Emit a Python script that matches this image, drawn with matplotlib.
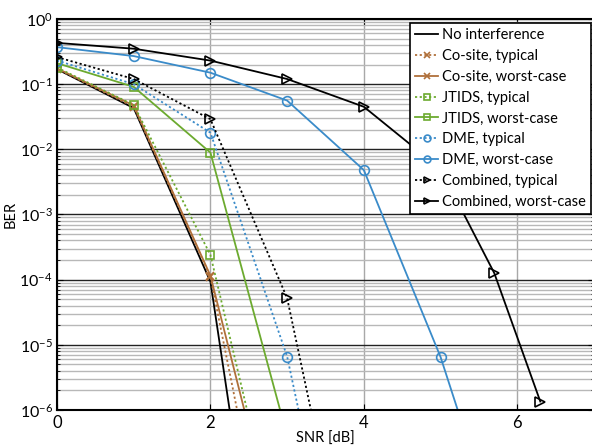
import matplotlib
matplotlib.use("Agg")
import matplotlib.pyplot as plt
from matplotlib.ticker import FixedLocator, NullFormatter

plt.rcParams['font.family'] = ['Lato', 'DejaVu Sans']
plt.rcParams['mathtext.fontset'] = 'custom'
plt.rcParams['mathtext.rm'] = 'Lato'
plt.rcParams['mathtext.it'] = 'Lato:italic'

# ---- data ----
snr = [0, 1, 2, 3]
no_interference = [0.17, 0.043, 9.3e-5, 1.3e-12]
cosite_typical = [0.172, 0.045, 1.1e-4, 1.5e-10]
cosite_worst = [0.175, 0.047, 1.15e-4, 2.5e-9]
jtids_typical = [0.18, 0.048, 2.4e-4, 2.5e-9]
jtids_worst = [0.21, 0.091, 8.9e-3, 4.0e-7]
snr_dme_typ = [0, 1, 2, 3, 4]
dme_typical = [0.23, 0.10, 0.018, 6.6e-6, 2e-11]
snr_dme_wc = [0, 1, 2, 3, 4, 5, 6]
dme_worst = [0.37, 0.27, 0.15, 0.056, 0.0048, 6.5e-6, 1.5e-9]
snr_comb_typ = [0, 1, 2, 3, 4]
combined_typical = [0.26, 0.12, 0.029, 5.2e-5, 1.5e-10]
snr_comb_wc = [0, 1, 2, 3, 4, 5, 5.7, 6.3]
combined_worst = [0.43, 0.35, 0.23, 0.12, 0.045, 0.005, 1.26e-4, 1.35e-6]

labels = ["No interference", "Co-site, typical", "Co-site, worst-case",
          "JTIDS, typical", "JTIDS, worst-case", "DME, typical",
          "DME, worst-case", "Combined, typical", "Combined, worst-case"]
x_ticks = [0, 2, 4, 6]
y_exponents = [-6, -5, -4, -3, -2, -1, 0]

brown = '#B0703A'
green = '#6CAA2F'
blue = '#3A8BC9'
black = '#000000'
dot = (0, (1.2, 1.4))

W, H = 592, 445
fig = plt.figure(figsize=(W / 100, H / 100), dpi=100)
ax = fig.add_axes([57 / W, (H - 410) / H, (594 - 57) / W, (410 - 19) / H])

lw = 1.3
ms = 6
ax.plot(snr, no_interference, color=black, lw=lw, label=labels[0])
ax.plot(snr, cosite_typical, color=brown, lw=lw, ls=dot, marker='x', ms=ms, mew=1.2, label=labels[1])
ax.plot(snr, cosite_worst, color=brown, lw=lw, marker='x', ms=ms, mew=1.2, label=labels[2])
ax.plot(snr, jtids_typical, color=green, lw=lw, ls=dot, marker='s', ms=ms, mfc='none', mew=1.2, label=labels[3])
ax.plot(snr, jtids_worst, color=green, lw=lw, marker='s', ms=ms, mfc='none', mew=1.2, label=labels[4])
ax.plot(snr_dme_typ, dme_typical, color=blue, lw=lw, ls=dot, marker='o', ms=ms + 1, mfc='none', mew=1.2, label=labels[5])
ax.plot(snr_dme_wc, dme_worst, color=blue, lw=lw, marker='o', ms=ms + 1, mfc='none', mew=1.2, label=labels[6])
ax.plot(snr_comb_typ, combined_typical, color=black, lw=lw, ls=dot, marker='>', ms=ms + 1, mfc='none', mew=1.2, label=labels[7])
ax.plot(snr_comb_wc, combined_worst, color=black, lw=lw, marker='>', ms=ms + 1, mfc='none', mew=1.2, label=labels[8])

ax.set_yscale('log')
ax.set_xlim(0, 7)
ax.set_ylim(1e-6, 1)
ax.set_xticks(x_ticks)
major_y = [10.0 ** e for e in y_exponents]
ax.set_yticks(major_y, [r'$10^{%d}$' % e for e in y_exponents])
minor_y = [m * 10.0 ** e for e in y_exponents[:-1] for m in range(2, 10)]
ax.yaxis.set_minor_locator(FixedLocator(minor_y))
ax.yaxis.set_minor_formatter(NullFormatter())

ax.grid(True, which='major', axis='y', color='#222222', lw=1.0)
ax.grid(True, which='minor', axis='y', color='#b8b8b8', lw=1.0)
ax.grid(True, which='major', axis='x', color='#a8a8a8', lw=1.0)
ax.set_axisbelow(True)

ax.tick_params(which='both', direction='in', top=True, right=True, labelsize=11.5, length=4)
ax.tick_params(which='minor', length=2)
ax.tick_params(axis='y', pad=3)
ax.tick_params(axis='x', labelsize=12)
for s in ax.spines.values():
    s.set_linewidth(1.5)

ax.set_xlabel('SNR [dB]', fontsize=10.5, labelpad=1)
ax.set_ylabel('BER', fontsize=10.5)
ax.yaxis.set_label_coords(-0.074, 0.5)

leg = ax.legend(loc='upper right', bbox_to_anchor=(591 / W, (H - 23) / H),
                bbox_transform=fig.transFigure, fontsize=10.5, frameon=True,
                fancybox=False, edgecolor='black', framealpha=1,
                handlelength=1.6, handletextpad=0.25, labelspacing=0.47,
                borderpad=0.35, borderaxespad=0, markerscale=0.7)
leg.get_frame().set_linewidth(1.2)

fig.savefig('out.png', dpi=100)
